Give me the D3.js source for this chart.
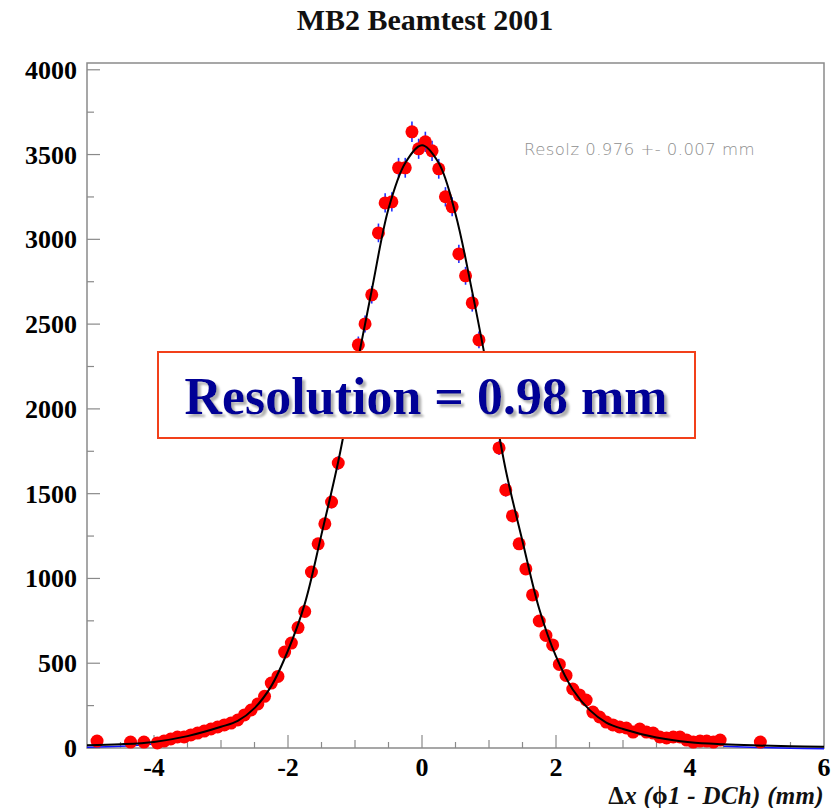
<!DOCTYPE html>
<html>
<head>
<meta charset="utf-8">
<script src="https://cdn.jsdelivr.net/npm/d3@7"></script>
<style>
  html, body { margin: 0; padding: 0; background: #fff; }
  svg { display: block; }
</style>
</head>
<body>
<svg id="chart" width="837" height="808"></svg>
<script>
// ---------------- data ----------------
const titleText = "MB2 Beamtest 2001";
const binCenters = [
  -4.85, -4.35, -4.15,
  -3.95, -3.85, -3.75, -3.65, -3.55, -3.45, -3.35, -3.25, -3.15, -3.05,
  -2.95, -2.85, -2.75, -2.65, -2.55, -2.45, -2.35, -2.25, -2.15, -2.05,
  -1.95, -1.85, -1.75, -1.65, -1.55, -1.45, -1.35, -1.25, -1.15, -1.05,
  -0.95, -0.85, -0.75, -0.65, -0.55, -0.45, -0.35, -0.25, -0.15, -0.05,
  0.05, 0.15, 0.25, 0.35, 0.45, 0.55, 0.65, 0.75, 0.85, 0.95,
  1.05, 1.15, 1.25, 1.35, 1.45, 1.55, 1.65, 1.75, 1.85, 1.95,
  2.05, 2.15, 2.25, 2.35, 2.45, 2.55, 2.65, 2.75, 2.85, 2.95,
  3.05, 3.15, 3.25, 3.35, 3.45, 3.55, 3.65, 3.75, 3.85, 3.95,
  4.05, 4.15, 4.25, 4.35, 4.45, 5.05
];
const counts = [
  41, 35, 35,
  30, 41, 53, 65, 65, 77, 88, 100, 112, 124,
  136, 147, 165, 195, 224, 260, 305, 383, 422, 566,
  619, 710, 805, 1038, 1204, 1322, 1451, 1681, 1930, 2150,
  2378, 2501, 2673, 3038, 3215, 3221, 3422, 3422, 3634, 3534,
  3575, 3522, 3416, 3251, 3192, 2914, 2785, 2625, 2407, 2180,
  1975, 1770, 1522, 1369, 1204, 1056, 903, 749, 664, 608,
  493, 428, 348, 313, 283, 212, 183, 153, 136, 124,
  118, 94, 112, 94, 88, 65, 59, 65, 65, 47,
  35, 41, 41, 35, 47, 35
];
// fitted curve
const fitX = [-5, -4.5, -4, -3.5, -3, -2.75, -2.5, -2.25, -2, -1.75, -1.5, -1.25, -1, -0.75, -0.5, -0.25, 0,
              0.25, 0.5, 0.75, 1, 1.25, 1.5, 1.75, 2, 2.25, 2.5, 2.75, 3, 3.5, 4, 4.5, 5, 5.5, 6];
const fitY = [16, 22, 36, 70, 125, 160, 235, 365, 575, 850, 1260, 1690, 2200, 2700, 3180, 3450, 3555,
              3450, 3150, 2690, 2180, 1640, 1220, 820, 540, 345, 225, 150, 112, 62, 34, 22, 15, 10, 8];
const xTickValues = [-4, -2, 0, 2, 4, 6];
const yTickValues = [0, 500, 1000, 1500, 2000, 2500, 3000, 3500, 4000];
const fitLabel = "Resolz 0.976 +- 0.007 mm";
const boxLabel = "Resolution = 0.98 mm";

// ---------------- layout ----------------
const svg = d3.select("#chart");
const L = 87, R = 824, T = 63, B = 748;
const x = d3.scaleLinear().domain([-5, 6]).range([L, R]);
const y = d3.scaleLinear().domain([0, 4040]).range([B, T]);
const frameColor = "#8a8a8a";
const serif = "'Liberation Serif', 'Times New Roman', serif";

const defs = svg.append("defs");
const f = defs.append("filter").attr("id", "shadow")
  .attr("x", "-5%").attr("y", "-20%").attr("width", "115%").attr("height", "150%");
f.append("feDropShadow").attr("dx", 3).attr("dy", 3).attr("stdDeviation", 0.8)
  .attr("flood-color", "#b0b0b0").attr("flood-opacity", 1);

svg.append("rect").attr("width", 837).attr("height", 808).attr("fill", "#fff");

// title
svg.append("text")
  .attr("x", 425).attr("y", 30)
  .attr("text-anchor", "middle")
  .style("font-family", serif).style("font-weight", "bold").style("font-size", "30px")
  .attr("fill", "#111")
  .text(titleText);

// frame
svg.append("rect")
  .attr("x", L).attr("y", T).attr("width", R - L).attr("height", B - T)
  .attr("fill", "none").attr("stroke", frameColor).attr("stroke-width", 1.5);

// y ticks (major + minor) drawn inward
const gy = svg.append("g");
const yMinor = d3.range(250, 4001, 500);
gy.selectAll("line.maj").data(yTickValues).join("line")
  .attr("x1", L).attr("x2", L + 13)
  .attr("y1", d => y(d)).attr("y2", d => y(d))
  .attr("stroke", frameColor).attr("stroke-width", 1.2);
gy.selectAll("line.min").data(yMinor).join("line")
  .attr("x1", L).attr("x2", L + 7)
  .attr("y1", d => y(d)).attr("y2", d => y(d))
  .attr("stroke", frameColor).attr("stroke-width", 1.2);
gy.selectAll("text").data(yTickValues).join("text")
  .attr("x", 77).attr("y", d => y(d) + 9)
  .attr("text-anchor", "end")
  .style("font-family", serif).style("font-weight", "bold").style("font-size", "26px")
  .attr("fill", "#000")
  .text(d => d);

// x ticks
const gx = svg.append("g");
const xHalf = d3.range(-4.5, 6, 0.5).filter(v => Math.abs(v % 1) > 0.1);
const xOdd = [-3, -1, 1, 3, 5];
gx.selectAll("line.maj").data(xTickValues.filter(v => v < 6)).join("line")
  .attr("x1", d => x(d)).attr("x2", d => x(d))
  .attr("y1", B).attr("y2", B - 13)
  .attr("stroke", frameColor).attr("stroke-width", 1.2);
gx.selectAll("line.mid").data(xOdd).join("line")
  .attr("x1", d => x(d)).attr("x2", d => x(d))
  .attr("y1", B).attr("y2", B - 8)
  .attr("stroke", frameColor).attr("stroke-width", 1.2);
gx.selectAll("line.min").data(xHalf).join("line")
  .attr("x1", d => x(d)).attr("x2", d => x(d))
  .attr("y1", B).attr("y2", B - 6)
  .attr("stroke", frameColor).attr("stroke-width", 1.2);
gx.selectAll("text").data(xTickValues).join("text")
  .attr("x", d => x(d)).attr("y", 776)
  .attr("text-anchor", "middle")
  .style("font-family", serif).style("font-weight", "bold").style("font-size", "26px")
  .attr("fill", "#000")
  .text(d => d);

// x axis title
const xt = svg.append("text")
  .attr("x", R).attr("y", 804)
  .attr("text-anchor", "end")
  .style("font-family", serif).style("font-weight", "bold").style("font-size", "25px")
  .style("letter-spacing", "0.3px")
  .attr("fill", "#111");
xt.append("tspan").style("font-style", "normal").text("\u0394");
xt.append("tspan").style("font-style", "italic").text("x (");
xt.append("tspan").style("font-style", "normal").text("\u03D5");
xt.append("tspan").style("font-style", "italic").text("1 - DCh) (mm)");

// data
const pts = binCenters.map((c, i) => ({ x: c, v: counts[i] }));

// blue line along the axis in the tails (fit drawn under the data)
const fitPts = fitX.map((c, i) => ({ x: c, v: fitY[i] }));
const blueLine = d3.line().x(d => x(d.x)).y(d => y(d.v) + 2).curve(d3.curveCatmullRom);
svg.append("path").datum(fitPts.filter(d => d.x <= -4))
  .attr("d", blueLine).attr("fill", "none").attr("stroke", "#1010ff").attr("stroke-width", 1.5);
svg.append("path").datum(fitPts.filter(d => d.x >= 4.5))
  .attr("d", blueLine).attr("fill", "none").attr("stroke", "#1010ff").attr("stroke-width", 1.5);

// error bars
svg.append("g").selectAll("line").data(pts).join("line")
  .attr("x1", d => x(d.x)).attr("x2", d => x(d.x))
  .attr("y1", d => y(d.v - Math.sqrt(d.v))).attr("y2", d => y(d.v + Math.sqrt(d.v)))
  .attr("stroke", "#2030ff").attr("stroke-width", 1.6);

// markers
svg.append("g").selectAll("circle").data(pts).join("circle")
  .attr("cx", d => x(d.x)).attr("cy", d => y(d.v)).attr("r", 6.5)
  .attr("fill", "#ff0000");

// fit curve
const line = d3.line().x(d => x(d.x)).y(d => y(d.v)).curve(d3.curveCatmullRom);
svg.append("path").datum(fitPts)
  .attr("d", line).attr("fill", "none").attr("stroke", "#000").attr("stroke-width", 2);

// fit label
svg.append("text")
  .attr("x", 524).attr("y", 155)
  .style("font-family", "'DejaVu Sans', 'Liberation Sans', sans-serif").style("font-size", "16.5px")
  .style("font-weight", "300").style("letter-spacing", "0.45px")
  .attr("fill", "#8e8e8e")
  .text(fitLabel);

// annotation box
svg.append("rect")
  .attr("x", 158).attr("y", 352).attr("width", 537).attr("height", 86)
  .attr("fill", "#fff").attr("stroke", "#f2401a").attr("stroke-width", 2);
svg.append("text")
  .attr("x", 426).attr("y", 414)
  .attr("text-anchor", "middle")
  .attr("filter", "url(#shadow)")
  .style("font-family", serif).style("font-weight", "bold").style("font-size", "52px")
  .attr("fill", "#000096")
  .text(boxLabel);
</script>
</body>
</html>
